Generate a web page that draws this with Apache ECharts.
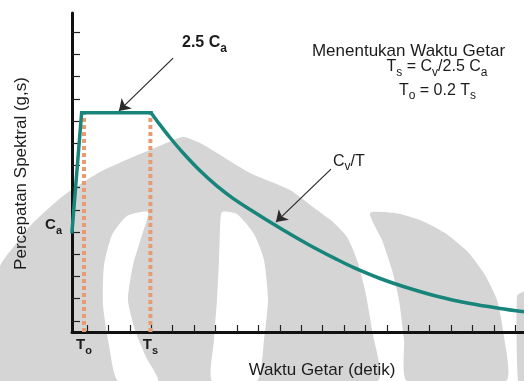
<!DOCTYPE html>
<html><head><meta charset="utf-8">
<script src="https://cdn.jsdelivr.net/npm/echarts@6/dist/echarts.min.js"></script>
<style>html,body{margin:0;padding:0;background:#fff}#c{width:524px;height:381px}</style>
</head><body><div id="c"></div>
<script>
// ---- data (chart units) ----
const xMax = 21.1;
const yMax = 14.37;
const xTickValues = [0.7,1.7,2.7,3.7,4.7,5.7,6.7,7.7,8.7,9.7,10.7,11.7,12.7,13.7,14.7,15.7,16.7,17.7,18.7,19.7,20.7];
const yTickValues = [0.5,1.5,2.5,3.5,4.5,5.5,6.5,7.5,8.5,9.5,10.5,11.5,12.5,13.5];
// rising branch and plateau
const riseT = [0, 0.45, 3.69];
const riseA = [4.52, 9.88, 9.88];
// descending branch Cv/T
const decayT = [3.69, 4.11, 4.58, 5.20, 5.98, 6.76, 7.53, 8.31, 9.09, 9.86, 10.64, 11.42, 12.36, 13.13, 14.38, 15.47, 17.03, 18.58, 19.98, 21.10];
const decayA = [9.88, 9.33, 8.75, 8.05, 7.26, 6.58, 6.01, 5.52, 5.05, 4.60, 4.16, 3.74, 3.27, 2.91, 2.41, 2.05, 1.61, 1.28, 1.06, 0.91];
const T0 = 0.56;
const Ts = 3.66;
const plateau = 9.88;
const caLabelLevel = 4.82;
const xLabelValues = [T0, Ts];
const arrow1 = [[4.72, 12.34], [2.19, 9.96]];
const arrow2 = [[12.09, 7.34], [9.52, 4.95]];

const FONT = 'Liberation Sans, Arial, Helvetica, sans-serif';
const INK = '#1c1c1c';
const TEAL = '#17857a';
const ORANGE = '#e99a72';
const GREY = '#d5d5d5';

const chart = echarts.init(document.getElementById('c'), null, {renderer: 'canvas'});

function poly(points, fill) {
  return {type: 'polygon', z: -10, silent: true, shape: {points: points, smooth: 0.2}, style: {fill: fill}};
}
function rtxt(text, x, y, size, weight, align, extra) {
  return Object.assign({
    type: 'text', z: 50, silent: true,
    style: {
      text: text, x: x, y: y, align: align || 'left', verticalAlign: 'middle',
      fill: INK, fontSize: size, fontWeight: weight || 'normal', fontFamily: FONT,
      rich: {
        m: {fontSize: size, fontWeight: weight || 'normal', fontFamily: FONT, fill: INK, lineHeight: Math.round(size * 1.45), verticalAlign: 'middle'},
        s: {fontSize: Math.round(size * 0.72), fontWeight: weight || 'normal', fontFamily: FONT, fill: INK, lineHeight: Math.round(size * 0.72), verticalAlign: 'bottom'}
      }
    }
  }, extra || {});
}

const subRich = {
  m: {fontSize: 15, fontWeight: 'bold', fontFamily: FONT, color: INK, lineHeight: 22, verticalAlign: 'middle'},
  s: {fontSize: 11, fontWeight: 'bold', fontFamily: FONT, color: INK, lineHeight: 11, verticalAlign: 'bottom'}
};

const option = {
  backgroundColor: '#ffffff',
  animation: false,
  grid: {left: 72, right: 0, top: 13, bottom: 49, containLabel: false},
  xAxis: {
    type: 'value', min: 0, max: xMax,
    axisLine: {show: true, lineStyle: {color: '#111', width: 3}},
    axisTick: {show: true, inside: true, length: 7, customValues: xTickValues, lineStyle: {color: '#222', width: 1.2}},
    axisLabel: {show: true, customValues: xLabelValues, margin: 2,
      formatter: function (v) { return Math.abs(v - T0) < 1e-6 ? '{m|T}{s|o}' : '{m|T}{s|s}'; },
      rich: subRich},
    splitLine: {show: false}
  },
  yAxis: {
    type: 'value', min: 0, max: yMax,
    axisLine: {show: true, lineStyle: {color: '#111', width: 3}},
    axisTick: {show: true, inside: true, length: 8, customValues: yTickValues, lineStyle: {color: '#222', width: 1.2}},
    axisLabel: {show: true, customValues: [caLabelLevel], margin: 10,
      formatter: function () { return '{m|C}{s|a}'; }, rich: subRich},
    splitLine: {show: false}
  },
  series: [
    {type: 'line', z: 3, silent: true, showSymbol: false, symbol: 'none',
     data: [[T0, 0], [T0, plateau]],
     lineStyle: {color: ORANGE, width: 4, type: [4, 3]}},
    {type: 'line', z: 3, silent: true, showSymbol: false, symbol: 'none',
     data: [[Ts, 0], [Ts, plateau]],
     lineStyle: {color: ORANGE, width: 4, type: [4, 3]}},
    {type: 'line', z: 5, silent: true, showSymbol: false, symbol: 'none',
     data: riseT.map(function (t, i) { return [t, riseA[i]]; }),
     lineStyle: {color: TEAL, width: 3.5, join: 'miter', cap: 'square'}},
    {type: 'line', z: 5, silent: true, showSymbol: false, symbol: 'none', smooth: 0.3,
     data: decayT.map(function (t, i) { return [t, decayA[i]]; }),
     lineStyle: {color: TEAL, width: 3.5},
     markLine: {
       silent: true, animation: false, symbol: ['none', 'arrow'], symbolSize: 11,
       label: {show: false},
       lineStyle: {color: '#2a2a2a', width: 1.2, type: 'solid'},
       emphasis: {disabled: true},
       data: [
         [{coord: arrow1[0]}, {coord: arrow1[1]}],
         [{coord: arrow2[0]}, {coord: arrow2[1]}]
       ]
     }}
  ],
  graphic: {elements: [
    // watermark
    poly([[0,267],[15,245],[30,226],[50,207],[67,193],[100,172],[133,157],[157,147],[183,137],[200,143],[217,153],[250,173],[290,190],[317,210],[333,222],[347,237],[357,260],[365,290],[372,330],[377,381],[0,381]], GREY),
    poly([[370,213],[395,213],[420,220],[445,233],[468,252],[485,275],[497,300],[503,330],[506,381],[407,381],[404,340],[399,300],[392,270],[382,240]], GREY),
    poly([[517,296],[524,292],[524,381],[518,381]], GREY),
    poly([[127,216],[148,212],[142,235],[133,265],[128,300],[135,330],[146,357],[158,381],[118,381],[109,345],[103,305],[104,265],[112,235]], '#ffffff'),
    poly([[222,212],[237,214],[254,234],[264,260],[268,300],[264,340],[257,381],[212,381],[214,340],[217,300],[219,260],[220,230]], '#ffffff'),
    // texts
    {type: 'text', z: 50, silent: true, style: {text: 'Menentukan Waktu Getar', x: 408.5, y: 51, align: 'center', verticalAlign: 'middle', fill: INK, fontSize: 17, fontFamily: FONT}},
    rtxt('{m|T}{s|s}{m| = C}{s|v}{m|/2.5 C}{s|a}', 437, 67, 16, 'normal', 'center'),
    rtxt('{m|T}{s|o}{m| = 0.2 T}{s|s}', 437.5, 90.5, 16, 'normal', 'center'),
    rtxt('{m|2.5 C}{s|a}', 182, 43, 16, 'bold', 'left'),
    rtxt('{m|C}{s|v}{m|/T}', 333, 161.5, 16, 'normal', 'left'),
    {type: 'text', z: 50, silent: true, style: {text: 'Waktu Getar (detik)', x: 322, y: 370, align: 'center', verticalAlign: 'middle', fill: INK, fontSize: 17, fontFamily: FONT}},
    {type: 'text', z: 50, silent: true, x: 21, y: 173.5, rotation: Math.PI / 2,
     style: {text: 'Percepatan Spektral (g,s)', x: 0, y: 0, align: 'center', verticalAlign: 'middle', fill: INK, fontSize: 17, fontFamily: FONT}}
  ]}
};
chart.setOption(option);
</script>
</body></html>
